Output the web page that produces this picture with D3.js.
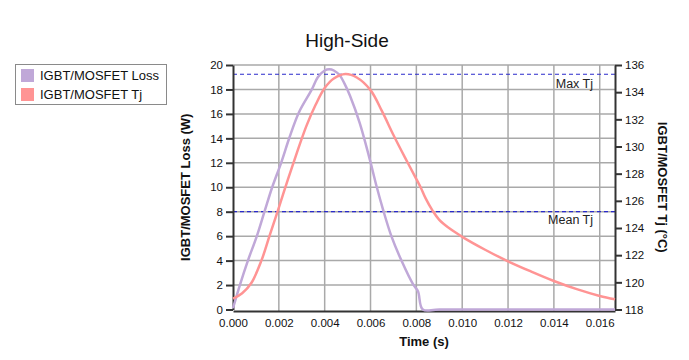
<!DOCTYPE html>
<html>
<head>
<meta charset="utf-8">
<script src="https://cdn.jsdelivr.net/npm/d3@7"></script>
<style>
  html, body { margin: 0; padding: 0; background: #fff; }
  svg { display: block; font-family: Arial, "Liberation Sans", sans-serif; }
</style>
</head>
<body>
<svg id="chart" width="689" height="360"></svg>
<script>
// ---- data ----
const title = "High-Side";
const seriesNames = ["IGBT/MOSFET Loss", "IGBT/MOSFET Tj"];
const timeTicks = [0, 0.002, 0.004, 0.006, 0.008, 0.010, 0.012, 0.014, 0.016];
const lossTicks = [0, 2, 4, 6, 8, 10, 12, 14, 16, 18, 20];
const tjTicks = [118, 120, 122, 124, 126, 128, 130, 132, 134, 136];

const lossTime = [0, 0.0003, 0.00065, 0.00104, 0.00139, 0.00171, 0.0021, 0.00246, 0.00287, 0.00344, 0.0037, 0.004, 0.0042, 0.0044, 0.00467, 0.00486, 0.0051, 0.00553, 0.00597, 0.00626, 0.00655, 0.00691, 0.00735, 0.00786, 0.00807, 0.00828, 0.0090, 0.016667];
const lossValues = [0.1, 2, 4, 6, 8.1, 10, 12, 14.05, 16.1, 18, 19.0, 19.55, 19.65, 19.55, 19.12, 18.5, 17.5, 15.25, 12.26, 10.1, 8.15, 6, 4, 2.05, 1.5, 0, 0, 0];

const tjTime = [0, 0.0004, 0.0008, 0.00125, 0.0016, 0.002, 0.0024, 0.0028, 0.0032, 0.0036, 0.004, 0.0044, 0.0049, 0.0054, 0.006, 0.0065, 0.007, 0.0075, 0.008, 0.0082, 0.0084, 0.0087, 0.009, 0.0095, 0.010, 0.011, 0.012, 0.013, 0.014, 0.015, 0.016, 0.016667];
const tjValues = [118.8, 119.2, 119.95, 121.65, 123.45, 125.5, 127.6, 129.6, 131.5, 133.05, 134.3, 135.0, 135.33, 135.08, 134.15, 132.6, 130.85, 129.2, 127.6, 126.95, 126.2, 125.3, 124.6, 123.9, 123.35, 122.4, 121.55, 120.8, 120.1, 119.5, 119.0, 118.75];

const maxTj = 135.32;
const meanTj = 125.2;
const refLabels = ["Max Tj", "Mean Tj"];

// ---- layout ----
const svg = d3.select("#chart");
const L = 233, R = 615, T = 65, B = 309.5;
const x = d3.scaleLinear().domain([0, 1 / 60]).range([L, R]);
const yL = d3.scaleLinear().domain([0, 20]).range([B, T]);
const yR = d3.scaleLinear().domain([118, 136]).range([B, T]);
const colLoss = "#c0a8d8", colTj = "#ff9494";

// grid
const grid = svg.append("g").attr("stroke", "#a9a9a9").attr("stroke-width", 1.5);
grid.selectAll("line.v").data(timeTicks.slice(1)).join("line")
  .attr("x1", d => x(d)).attr("x2", d => x(d)).attr("y1", T).attr("y2", B + 1.5);
grid.selectAll("line.h").data(lossTicks.slice(1)).join("line")
  .attr("y1", d => yL(d)).attr("y2", d => yL(d)).attr("x1", L).attr("x2", R);

// reference dashed lines
const refs = [maxTj, meanTj];
svg.append("g").selectAll("line").data(refs).join("line")
  .attr("x1", L).attr("x2", R).attr("y1", d => yR(d)).attr("y2", d => yR(d))
  .attr("stroke", "#2a2acc").attr("stroke-width", 1.2).attr("stroke-dasharray", "4,3");
svg.append("g").selectAll("text").data(refs).join("text")
  .attr("x", 593).attr("y", (d, i) => yR(d) + (i ? 12.5 : 13.5)).attr("text-anchor", "end")
  .attr("font-size", 12.5).attr("fill", "#222").text((d, i) => refLabels[i]);

// axes
const ax = (g) => { g.selectAll("path.domain").attr("stroke", "#333").attr("stroke-width", 2);
  g.selectAll(".tick line").attr("stroke", "#333").attr("stroke-width", 2);
  g.selectAll(".tick text").attr("fill", "#111").style("font-size", "11.5px").style("font-family", "Arial, 'Liberation Sans', sans-serif"); };
svg.append("g").attr("transform", `translate(${L},0)`)
  .call(d3.axisLeft(yL).tickValues(lossTicks).tickSize(7).tickSizeOuter(0).tickPadding(3)).call(ax);
svg.append("g").attr("transform", `translate(${R},0)`)
  .call(d3.axisRight(yR).tickValues(tjTicks).tickSize(7).tickSizeOuter(0).tickPadding(3)).call(ax);
svg.append("g").attr("transform", `translate(0,${B + 1.5})`)
  .call(d3.axisBottom(x).tickValues(timeTicks).tickFormat(d3.format(".3f")).tickSize(0).tickSizeOuter(0).tickPadding(8)).call(ax);

// curves (drawn over the axes, as in the reference)
const lossData = lossTime.map((t, i) => [t, lossValues[i]]);
const tjData = tjTime.map((t, i) => [t, tjValues[i]]);
svg.append("path").datum(lossData)
  .attr("fill", "none").attr("stroke", colLoss).attr("stroke-width", 2.5)
  .attr("d", d3.line().x(d => x(d[0])).y(d => yL(d[1])).curve(d3.curveCatmullRom.alpha(0.5)));
svg.append("path").datum(tjData)
  .attr("fill", "none").attr("stroke", colTj).attr("stroke-width", 2.5)
  .attr("d", d3.line().x(d => x(d[0])).y(d => yR(d[1])).curve(d3.curveCatmullRom.alpha(0.5)));

// titles
svg.append("text").attr("x", 347).attr("y", 47).attr("text-anchor", "middle")
  .attr("font-size", 19).attr("fill", "#111").text(title);
svg.append("text").attr("x", (L + R) / 2).attr("y", 346).attr("text-anchor", "middle")
  .attr("font-size", 13).attr("font-weight", "bold").attr("fill", "#111").text("Time (s)");
svg.append("text").attr("transform", `translate(190,${(T + B) / 2}) rotate(-90)`).attr("text-anchor", "middle")
  .attr("font-size", 13).attr("font-weight", "bold").attr("fill", "#111").text("IGBT/MOSFET Loss (W)");
svg.append("text").attr("transform", `translate(658,${(T + B) / 2}) rotate(90)`).attr("text-anchor", "middle")
  .attr("font-size", 13).attr("font-weight", "bold").attr("fill", "#111").text("IGBT/MOSFET Tj (°C)");

// legend
const lg = svg.append("g");
lg.append("rect").attr("x", 15.5).attr("y", 64.5).attr("width", 151).attr("height", 40)
  .attr("fill", "#fff").attr("stroke", "#8a8a8a").attr("stroke-width", 1);
const items = lg.selectAll("g.item").data(seriesNames).join("g")
  .attr("transform", (d, i) => `translate(21,${69 + i * 19})`);
items.append("rect").attr("width", 13).attr("height", 13).attr("fill", (d, i) => i ? colTj : colLoss);
items.append("text").attr("x", 19).attr("y", 11).attr("font-size", 13).attr("fill", "#111").text(d => d);
</script>
</body>
</html>
